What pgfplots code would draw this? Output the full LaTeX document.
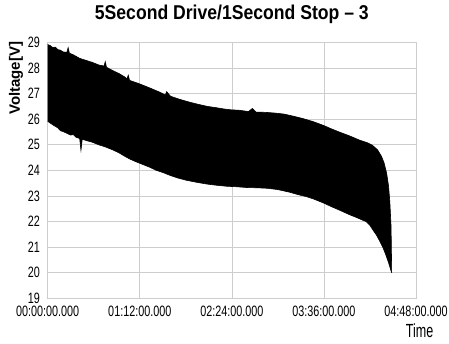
\documentclass[border=0pt]{standalone}
\usepackage{fontspec}
\setmainfont{Liberation Sans}
\newfontfamily\narrowfont[FakeStretch=0.72]{Liberation Sans}
\newfontfamily\timefont[FakeStretch=0.66]{Liberation Sans}
\newfontfamily\titlefont[FakeStretch=0.88]{Liberation Sans}
\usepackage{pgfplots}
\usepackage{pgfplotstable}
\pgfplotsset{compat=1.18}
\usepgfplotslibrary{fillbetween}
\definecolor{gridgray}{RGB}{205,205,205}

\pgfplotstableread{
t V
0 28.92
2 28.88
4 28.80
6 28.82
8 28.72
10 28.70
12 28.63
15 28.62
16 28.80
17 28.58
20 28.52
25 28.38
30 28.30
35 28.22
40 28.12
44 28.08
45 28.25
46 28.03
51 27.90
56 27.78
60 27.66
62 27.58
63 27.72
64 27.52
72 27.38
80 27.22
88 27.05
92 26.95
93 27.08
96 26.90
103 26.78
110 26.68
118 26.58
125 26.50
132 26.45
138 26.40
143 26.37
150 26.35
157 26.30
160 26.42
163 26.28
170 26.27
178 26.24
185 26.20
192 26.12
200 26.02
208 25.90
216 25.75
222 25.62
228 25.50
236 25.35
244 25.18
250 25.08
254 24.98
258 24.80
261 24.55
263 24.30
265 23.90
266.5 23.40
267.5 22.80
268.5 21.80
269 20.00
}\uppertab

\pgfplotstableread{
t V
0 25.92
2 25.85
5 25.75
8 25.66
10 25.55
12 25.52
15 25.45
18 25.38
20 25.40
22 25.30
25 25.25
26 24.78
27 25.22
30 25.17
35 25.10
40 25.00
45 24.92
51 24.80
56 24.68
60 24.56
64 24.45
68 24.36
72 24.28
80 24.12
85 24.00
90 23.92
96 23.80
102 23.70
108 23.62
116 23.54
124 23.47
132 23.42
140 23.38
148 23.36
156 23.33
164 23.32
172 23.30
180 23.25
189 23.15
196 23.05
202 22.98
208 22.88
216 22.72
222 22.58
228 22.45
236 22.27
242 22.15
246 22.06
249 22.00
252 21.85
255 21.62
257 21.48
260 21.20
262 21.00
264 20.75
266.5 20.40
268 20.15
269 20.00
}\lowertab

\begin{document}
\begin{tikzpicture}
\begin{axis}[
  scale only axis,
  width=368.3pt, height=255.8pt,
  at={(0pt,0pt)}, anchor=south west,
  xmin=0, xmax=288, ymin=19, ymax=29,
  xtick={0,72,144,216,288},
  xticklabels={00:00:00.000,01:12:00.000,02:24:00.000,03:36:00.000,04:48:00.000},
  ytick={19,20,...,29},
  grid=major,
  major grid style={gridgray, line width=0.7pt},
  axis line style={gridgray, line width=0.7pt},
  tick style={draw=none},
  /pgf/number format/assume math mode=true,
  tick label style={font=\narrowfont\fontsize{15}{15}\selectfont, inner sep=0pt},
  yticklabel style={xshift=-7.7pt},
  xticklabel style={yshift=-7.5pt},
  title={\titlefont\bfseries\fontsize{20}{20}\selectfont 5Second Drive/1Second Stop \textendash{} 3},
  title style={at={(axis description cs:0.5,1)}, anchor=base, yshift=16.8pt, inner sep=0pt},
  ylabel={\bfseries\fontsize{15}{15}\selectfont Voltage[V]},
  ylabel style={at={(axis description cs:-0.086,0.86)}, anchor=center, inner sep=0pt},
  xlabel={\timefont\fontsize{19}{19}\selectfont Time},
  xlabel style={at={(axis description cs:1.01,-0.127)}, anchor=center, inner sep=0pt},
]
\addplot[name path=up, draw=black, line width=0.6pt] table[x=t, y=V] {\uppertab};
\addplot[name path=lo, draw=black, line width=0.6pt] table[x=t, y=V] {\lowertab};
\addplot[black] fill between[of=up and lo];
\end{axis}
\pgfresetboundingbox
\path[use as bounding box] (-47.7pt,-44.7pt) rectangle (401.3pt,298.3pt);
\end{tikzpicture}
\end{document}
